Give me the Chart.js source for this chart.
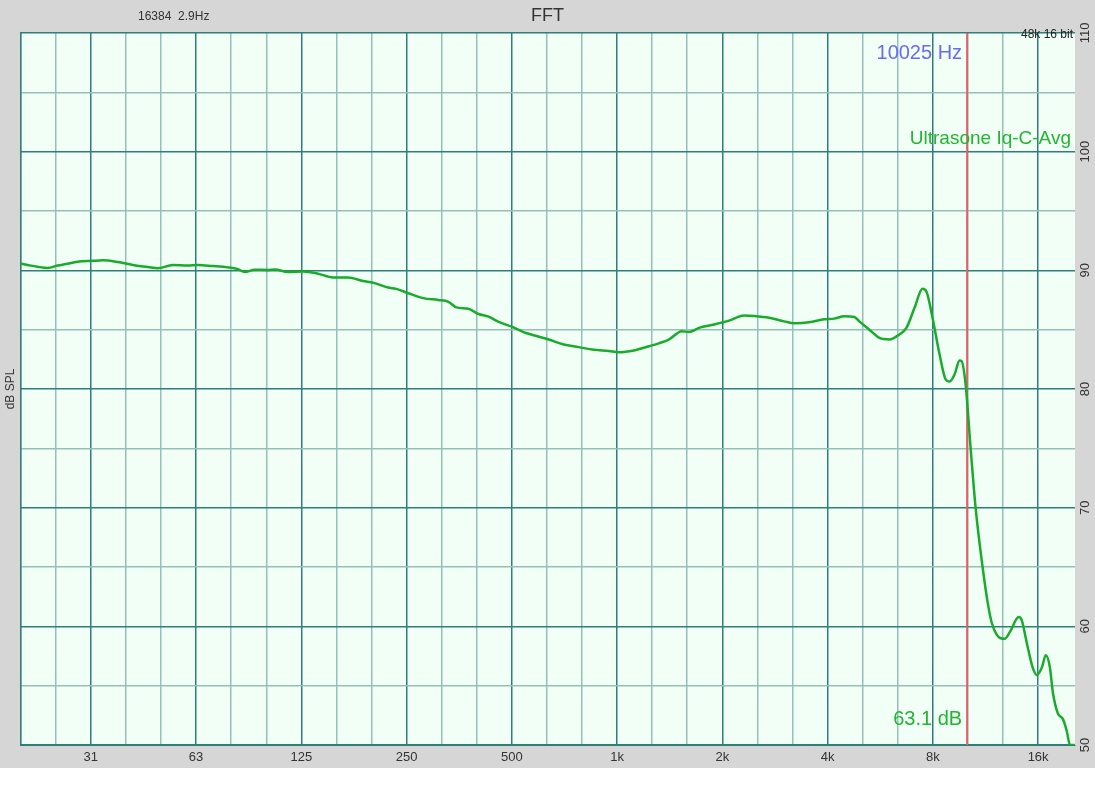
<!DOCTYPE html>
<html>
<head>
<meta charset="utf-8">
<script src="https://cdn.jsdelivr.net/npm/chart.js@4"></script>
<style>
  html, body { margin: 0; padding: 0; background: #ffffff; }
  #wrap { width: 1095px; height: 768px; }
  canvas { display: block; }
</style>
</head>
<body>
<div id="wrap"><canvas id="c" width="1095" height="768"></canvas></div>
<script>
// ---- data ----
const freqHz = [19.4, 20.6, 22.0, 23.5, 25.1, 26.8, 28.6, 31.6, 33.8, 37.3, 41.2, 45.5, 48.6, 53.6, 59.2, 63.2, 69.8, 77.0, 82.3, 86.1, 92.0, 100.3, 105.1, 114.4, 126.4, 139.5, 153.9, 170.0, 187.8, 200.6, 221.4, 233.4, 252.9, 279.0, 308.0, 329.2, 347.0, 375.5, 401.3, 428.7, 458.2, 505.6, 540.1, 577.0, 637.2, 703.3, 776.4, 857.3, 946.7, 1011, 1117, 1233, 1317, 1406, 1533, 1605, 1715, 1893, 2090, 2307, 2466, 2722, 3004, 3211, 3543, 3912, 4179, 4466, 4771, 4931, 5267, 5626, 6009, 6421, 6722, 7086, 7473, 7673, 7984, 8363, 8700, 8932, 9231, 9540, 9666, 9925, 10260, 10600, 11100, 11480, 11790, 12180, 12509, 12842, 13270, 14085, 14370, 14850, 15450, 15870, 16390, 16830, 17280, 17630, 18220, 18830, 19330, 19720, 20390];
const splDb = [90.6, 90.45, 90.3, 90.2, 90.4, 90.56, 90.73, 90.8, 90.84, 90.7, 90.45, 90.28, 90.17, 90.45, 90.4, 90.45, 90.36, 90.25, 90.1, 89.86, 90.05, 90.03, 90.08, 89.86, 89.9, 89.72, 89.4, 89.39, 89.1, 88.95, 88.55, 88.44, 88.07, 87.66, 87.5, 87.35, 86.88, 86.76, 86.32, 86.1, 85.65, 85.2, 84.8, 84.53, 84.17, 83.75, 83.53, 83.3, 83.2, 83.1, 83.25, 83.6, 83.85, 84.17, 84.87, 84.8, 85.15, 85.43, 85.76, 86.2, 86.15, 86.0, 85.7, 85.54, 85.62, 85.87, 85.93, 86.13, 86.07, 85.7, 85.0, 84.3, 84.17, 84.6, 85.15, 86.82, 88.44, 88.2, 85.98, 82.9, 80.82, 80.63, 81.24, 82.4, 82.35, 80.4, 75.0, 70.0, 65.0, 62.0, 60.3, 59.3, 59.0, 58.96, 59.5, 60.78, 60.5, 58.6, 56.5, 55.9, 56.5, 57.57, 56.6, 54.45, 52.67, 52.2, 51.16, 50.03, 50.0];

const gridFreqs = [19.69, 24.8, 31.25, 39.37, 49.61, 62.5, 78.75, 99.21, 125, 157.5, 198.4, 250, 315, 396.9, 500, 630, 793.7, 1000, 1260, 1587, 2000, 2520, 3175, 4000, 5040, 6350, 8000, 10079, 12699, 16000];
const labelFreqs = [31.25, 62.5, 125, 250, 500, 1000, 2000, 4000, 8000, 16000];
const tickLabels = ['31', '63', '125', '250', '500', '1k', '2k', '4k', '8k', '16k'];
const yTickValues = [50, 60, 70, 80, 90, 100, 110];
const cursorFreq = [10025, 10025];
const cursorDb = [50, 110];

const seriesName = 'Ultrasone Iq-C-Avg';
const cursorFreqText = '10025 Hz';
const cursorDbText = '63.1 dB';
const fftInfoText = '16384  2.9Hz';
const formatText = '48k 16 bit';

// ---- styles ----
const DARK = '#2e7f76';
const LIGHT = '#96bfb8';
const FONT = "'Liberation Sans', Arial, Helvetica, sans-serif";

function isLabelFreq(v) {
  return labelFreqs.findIndex(f => Math.abs(v / f - 1) < 0.01);
}

const bgPlugin = {
  id: 'bg',
  beforeDraw(chart) {
    const ctx = chart.ctx, a = chart.chartArea;
    ctx.save();
    ctx.fillStyle = '#d6d6d6';
    ctx.fillRect(0, 0, chart.width, chart.height);
    ctx.fillStyle = '#f1fff7';
    ctx.fillRect(a.left, a.top, a.right - a.left, a.bottom - a.top);
    ctx.restore();
  }
};

const textPlugin = {
  id: 'texts',
  afterDraw(chart) {
    const ctx = chart.ctx, a = chart.chartArea;
    const xs = chart.scales.x, ys = chart.scales.y;
    ctx.save();
    // rotated right-hand tick labels
    ctx.fillStyle = '#333333';
    ctx.font = '13px ' + FONT;
    ctx.textAlign = 'center';
    ctx.textBaseline = 'middle';
    yTickValues.forEach(v => {
      const py = ys.getPixelForValue(v);
      ctx.save();
      ctx.translate(a.right + 10, Math.min(py, chart.height - 14));
      ctx.rotate(-Math.PI / 2);
      ctx.fillText(String(v), 0, 0);
      ctx.restore();
    });
    // header info
    ctx.font = '12px ' + FONT;
    ctx.textAlign = 'left';
    ctx.fillStyle = '#333333';
    ctx.fillText(fftInfoText, 138, 17);
    ctx.textAlign = 'right';
    ctx.fillStyle = '#222222';
    ctx.font = '12px ' + FONT;
    ctx.fillText(formatText, a.right - 2, a.top + 2);
    // cursor texts
    const cx = xs.getPixelForValue(cursorFreq[0]);
    ctx.font = '20px ' + FONT;
    ctx.fillStyle = '#6a6af2';
    ctx.fillText(cursorFreqText, cx - 5, a.top + 20);
    ctx.fillStyle = '#22b530';
    ctx.fillText(cursorDbText, cx - 5, a.bottom - 26);
    ctx.font = '19px ' + FONT;
    ctx.fillText(seriesName, a.right - 4, ys.getPixelForValue(101.1));
    ctx.restore();
  }
};

new Chart(document.getElementById('c'), {
  type: 'line',
  data: {
    datasets: [
      {
        label: seriesName,
        data: freqHz.map((f, i) => ({ x: f, y: splDb[i] })),
        borderColor: '#1aab2c',
        borderWidth: 2.5,
        pointRadius: 0,
        cubicInterpolationMode: 'monotone',
        fill: false
      },
      {
        label: 'cursor',
        data: cursorFreq.map((f, i) => ({ x: f, y: cursorDb[i] })),
        borderColor: '#e46068',
        borderWidth: 2,
        pointRadius: 0,
        fill: false
      }
    ]
  },
  options: {
    responsive: false,
    animation: false,
    devicePixelRatio: 1,
    layout: { padding: { top: 0, right: 0, bottom: 0, left: 0 } },
    plugins: {
      legend: { display: false },
      tooltip: { enabled: false },
      title: {
        display: true,
        text: 'FFT',
        color: '#333333',
        font: { family: FONT, size: 18, weight: 'normal' },
        padding: { top: 5, bottom: 6.4 }
      }
    },
    scales: {
      x: {
        type: 'logarithmic',
        position: 'bottom',
        min: 19.69,
        max: 20400,
        afterBuildTicks(scale) { scale.ticks = gridFreqs.map(v => ({ value: v })); },
        afterFit(scale) { scale.height = 768 - 745; },
        border: { display: true, color: DARK, width: 1 },
        grid: {
          drawTicks: false,
          lineWidth: 1.5,
          color: ctx => (ctx.tick && isLabelFreq(ctx.tick.value) >= 0) ? DARK : LIGHT
        },
        ticks: {
          autoSkip: false,
          maxRotation: 0,
          minRotation: 0,
          padding: 5,
          color: '#333333',
          font: { family: FONT, size: 13 },
          callback(value) {
            const k = isLabelFreq(value);
            return k >= 0 ? tickLabels[k] : '';
          }
        }
      },
      y: {
        type: 'linear',
        position: 'right',
        min: 50,
        max: 110,
        afterFit(scale) { scale.width = 20; },
        border: { display: false },
        grid: {
          drawTicks: false,
          lineWidth: 1.5,
          color: ctx => (ctx.tick && ctx.tick.value % 10 === 0) ? DARK : LIGHT
        },
        ticks: { stepSize: 5, display: false }
      },
      y2: {
        type: 'linear',
        position: 'left',
        min: 0,
        max: 1,
        afterFit(scale) { scale.width = 20.7; },
        border: { display: true, color: DARK, width: 1.5 },
        grid: { display: false },
        ticks: { display: false },
        title: {
          display: true,
          text: 'dB SPL',
          color: '#333333',
          font: { family: FONT, size: 12 },
          padding: { top: 3, bottom: 0 }
        }
      }
    }
  },
  plugins: [bgPlugin, textPlugin]
});
</script>
</body>
</html>
